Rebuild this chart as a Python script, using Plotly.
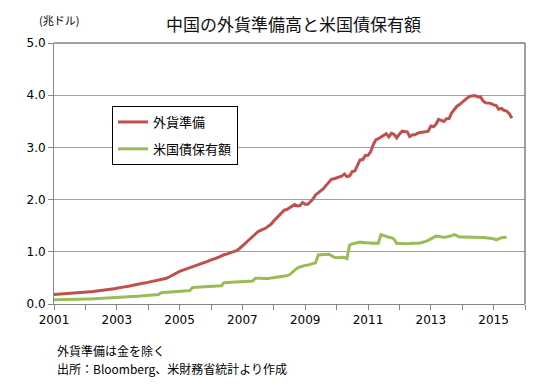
import plotly.graph_objects as go
import pandas as pd

# China FX reserves (trillion USD), monthly from Jan 2001 to Aug 2015
reserves = [
    0.180, 0.183, 0.186, 0.189, 0.192, 0.195, 0.198, 0.202, 0.206, 0.210, 0.214, 0.218,
    0.224, 0.228, 0.233, 0.238, 0.243, 0.249, 0.256, 0.260, 0.264, 0.270, 0.278, 0.290,
    0.300, 0.305, 0.318, 0.328, 0.336, 0.348, 0.358, 0.367, 0.385, 0.393, 0.399, 0.405,
    0.417, 0.422, 0.440, 0.447, 0.450, 0.472, 0.485, 0.494, 0.517, 0.545, 0.575, 0.612,
    0.625, 0.645, 0.661, 0.673, 0.693, 0.713, 0.735, 0.755, 0.771, 0.786, 0.797, 0.821,
    0.846, 0.856, 0.877, 0.897, 0.927, 0.943, 0.956, 0.974, 0.990, 1.012, 1.027, 1.068,
    1.106, 1.158, 1.202, 1.246, 1.292, 1.333, 1.385, 1.409, 1.434, 1.455, 1.497, 1.528,
    1.590, 1.647, 1.682, 1.757, 1.797, 1.809, 1.845, 1.884, 1.906, 1.880, 1.885, 1.946,
    1.913, 1.912, 1.954, 2.009, 2.089, 2.132, 2.175, 2.211, 2.273, 2.328, 2.389, 2.399,
    2.415, 2.425, 2.447, 2.491, 2.440, 2.454, 2.538, 2.548, 2.648, 2.760, 2.768, 2.847,
    2.849, 2.914, 3.045, 3.145, 3.166, 3.198, 3.245, 3.262, 3.202, 3.274, 3.247, 3.181,
    3.254, 3.311, 3.305, 3.299, 3.206, 3.240, 3.240, 3.273, 3.285, 3.287, 3.298, 3.312,
    3.410, 3.395, 3.443, 3.535, 3.515, 3.497, 3.548, 3.553, 3.663, 3.736, 3.789, 3.821,
    3.867, 3.914, 3.948, 3.981, 3.984, 3.993, 3.966, 3.969, 3.888, 3.853, 3.848, 3.843,
    3.813, 3.801, 3.730, 3.748, 3.711, 3.694, 3.651, 3.557,
]

# China holdings of US Treasuries (trillion USD), monthly from Jan 2001 to Jun 2015
treasuries = [
    0.080, 0.080, 0.081, 0.082, 0.083, 0.084, 0.085, 0.086, 0.087, 0.088, 0.089, 0.090,
    0.092, 0.094, 0.096, 0.098, 0.100, 0.108, 0.111, 0.114, 0.116, 0.118, 0.120, 0.122,
    0.125, 0.128, 0.131, 0.134, 0.137, 0.140, 0.143, 0.146, 0.149, 0.152, 0.155, 0.158,
    0.162, 0.165, 0.168, 0.172, 0.180, 0.215, 0.218, 0.221, 0.224, 0.227, 0.230, 0.233,
    0.236, 0.240, 0.245, 0.252, 0.260, 0.318, 0.320, 0.322, 0.324, 0.326, 0.328, 0.330,
    0.333, 0.336, 0.339, 0.342, 0.350, 0.408, 0.412, 0.416, 0.420, 0.424, 0.428, 0.432,
    0.434, 0.436, 0.438, 0.440, 0.442, 0.495, 0.500, 0.495, 0.490, 0.485, 0.490, 0.500,
    0.505, 0.510, 0.515, 0.520, 0.530, 0.540, 0.560, 0.600, 0.650, 0.690, 0.710, 0.730,
    0.740, 0.745, 0.760, 0.770, 0.790, 0.940, 0.950, 0.950, 0.950, 0.955, 0.930, 0.895,
    0.890, 0.885, 0.895, 0.890, 0.870, 1.130, 1.150, 1.165, 1.180, 1.185, 1.180, 1.175,
    1.170, 1.170, 1.165, 1.170, 1.165, 1.330, 1.310, 1.290, 1.280, 1.270, 1.240, 1.160,
    1.165, 1.160, 1.155, 1.165, 1.160, 1.165, 1.160, 1.165, 1.170, 1.180, 1.200, 1.220,
    1.250, 1.275, 1.300, 1.295, 1.285, 1.280, 1.285, 1.295, 1.310, 1.330, 1.305, 1.285,
    1.285, 1.285, 1.280, 1.280, 1.280, 1.275, 1.275, 1.275, 1.275, 1.270, 1.265, 1.260,
    1.250, 1.230, 1.255, 1.270, 1.275, 1.278,
]

series_names = ["外貨準備", "米国債保有額"]
series_colors = ["#C0504D", "#9BBB59"]
title_text = "中国の外貨準備高と米国債保有額"
unit_text = "(兆ドル)"
note_lines = ["外貨準備は金を除く", "出所：Bloomberg、米財務省統計より作成"]

dates_res = pd.date_range("2001-01-01", periods=len(reserves), freq="MS")
dates_tr = pd.date_range("2001-01-01", periods=len(treasuries), freq="MS")

JP = "Noto Sans CJK JP"
NUM = "DejaVu Sans"

fig = go.Figure()
for i, (name, xs, ys) in enumerate([(series_names[0], dates_res, reserves),
                                     (series_names[1], dates_tr, treasuries)]):
    fig.add_trace(go.Scatter(
        x=xs, y=ys, mode="lines", name=name, legendgroup=f"g{i}",
        line=dict(color=series_colors[i], width=3),
    ))

# page has an 8px body margin; figure coordinates = page coordinates - 8
OFF = 8
W, H = 549 - OFF, 387 - OFF
PL, PR, PT, PB = 54, 525, 43, 304  # plot area in page pixels
L, R, T, B = PL - OFF, 549 - PR, PT - OFF, 387 - PB
pw, ph = PR - PL, PB - PT

def px_x(x):
    return (x - PL) / pw

def px_y(y):
    return 1 - (y - PT) / ph

fig.update_layout(
    width=W, height=H,
    margin=dict(l=L, r=R, t=T, b=B, autoexpand=False),
    paper_bgcolor="white", plot_bgcolor="white",
    showlegend=True,
    legend=dict(
        x=px_x(112), y=px_y(106), xanchor="left", yanchor="top",
        bordercolor="#000000", borderwidth=1, bgcolor="white",
        font=dict(family=JP, size=13, color="#000000"),
        itemwidth=30, tracegroupgap=7, traceorder="grouped",
    ),
    xaxis=dict(
        type="date", range=["2001-01-01", "2016-01-01"],
        tick0="2001-01-01", dtick="M24", tickformat="%Y",
        ticks="outside", ticklen=5, tickcolor="#868686",
        minor=dict(dtick="M12", tick0="2001-01-01", ticks="outside", ticklen=5, tickcolor="#868686", showgrid=False),
        showgrid=False, showline=True, linecolor="#868686", linewidth=1,
        tickfont=dict(family=NUM, size=12, color="#000000"),
        zeroline=False,
    ),
    yaxis=dict(
        range=[0, 5], dtick=1, tick0=0, tickformat=".1f",
        ticks="outside", ticklen=5, tickcolor="#868686",
        showgrid=True, gridcolor="#A0A0A0", gridwidth=1,
        showline=True, linecolor="#868686", linewidth=1,
        tickfont=dict(family=NUM, size=12, color="#000000"),
        zeroline=False,
    ),
    shapes=[
        dict(type="line", xref="paper", yref="paper", x0=0, x1=1, y0=1, y1=1,
             line=dict(color="#404040", width=1)),
        dict(type="line", xref="paper", yref="paper", x0=1, x1=1, y0=0, y1=1,
             line=dict(color="#404040", width=1)),
    ],
    annotations=[
        dict(text=title_text, xref="paper", yref="paper", x=px_x(293), y=px_y(9),
             xanchor="center", yanchor="top", showarrow=False,
             font=dict(family=JP, size=17, color="#111111")),
        dict(text=unit_text, xref="paper", yref="paper", x=px_x(37), y=px_y(20),
             xanchor="left", yanchor="middle", showarrow=False,
             font=dict(family=JP, size=11, color="#000000")),
        dict(text=note_lines[0], xref="paper", yref="paper", x=px_x(55), y=px_y(350),
             xanchor="left", yanchor="middle", showarrow=False,
             font=dict(family=JP, size=12, color="#000000")),
        dict(text=note_lines[1], xref="paper", yref="paper", x=px_x(55), y=px_y(368),
             xanchor="left", yanchor="middle", showarrow=False,
             font=dict(family=JP, size=12, color="#000000")),
    ],
)

fig.write_html("out.html")
